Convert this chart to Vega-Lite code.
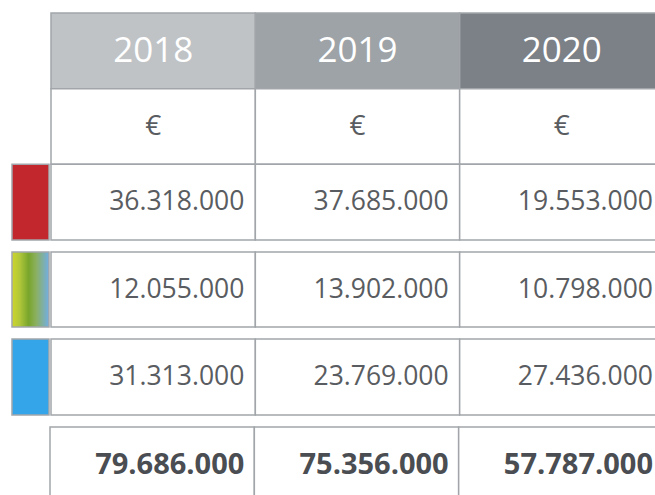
{
  "$schema": "https://vega.github.io/schema/vega-lite/v6.json",
  "padding": {"left": 11, "top": 12, "right": 0, "bottom": 0},
  "autosize": {"type": "pad"},
  "spacing": 10,
  "config": {"view": {"stroke": null}, "concat": {"spacing": 0}, "text": {"font": "Open Sans"}},
  "resolve": {"scale": {"x": "independent", "y": "independent", "fill": "independent"}},
  "datasets": {
    "cells": [
      {"row": "header", "year": "2018", "label": "2018"},
      {"row": "header", "year": "2019", "label": "2019"},
      {"row": "header", "year": "2020", "label": "2020"},
      {"row": "unit", "year": "2018", "label": "€"},
      {"row": "unit", "year": "2019", "label": "€"},
      {"row": "unit", "year": "2020", "label": "€"},
      {"row": "r1", "year": "2018", "label": "36.318.000"},
      {"row": "r1", "year": "2019", "label": "37.685.000"},
      {"row": "r1", "year": "2020", "label": "19.553.000"},
      {"row": "r2", "year": "2018", "label": "12.055.000"},
      {"row": "r2", "year": "2019", "label": "13.902.000"},
      {"row": "r2", "year": "2020", "label": "10.798.000"},
      {"row": "r3", "year": "2018", "label": "31.313.000"},
      {"row": "r3", "year": "2019", "label": "23.769.000"},
      {"row": "r3", "year": "2020", "label": "27.436.000"},
      {"row": "total", "year": "2018", "label": "79.686.000"},
      {"row": "total", "year": "2019", "label": "75.356.000"},
      {"row": "total", "year": "2020", "label": "57.787.000"}
    ],
    "swatches": [
      {"row": "r1", "kind": "red"},
      {"row": "r2", "kind": "gradient"},
      {"row": "r3", "kind": "blue"}
    ]
  },
  "vconcat": [
    {
      "resolve": {"scale": {"x": "independent", "y": "independent", "fill": "independent"}},
      "hconcat": [
        {
          "width": 37, "height": 227,
          "data": {"name": "swatches"},
          "transform": [{"filter": "datum.row === 'r1'"}],
          "mark": {"type": "rect", "stroke": "#a2a6aa", "strokeWidth": 1.5},
          "encoding": {
            "y": {"field": "row", "type": "nominal", "axis": null, "scale": {"domain": ["header", "unit", "r1"], "paddingInner": 0, "paddingOuter": 0}},
            "fill": {"field": "kind", "type": "nominal", "legend": null, "scale": {"domain": ["red", "blue"], "range": ["#c1272d", "#34a5e8"]}}
          }
        },
        {
          "width": 613, "height": 227,
          "data": {"name": "cells"},
          "transform": [{"filter": {"field": "row", "oneOf": ["header", "unit", "r1"]}}],
          "encoding": {
            "x": {"field": "year", "type": "nominal", "axis": null, "scale": {"domain": ["2018", "2019", "2020"], "paddingInner": 0, "paddingOuter": 0}},
            "y": {"field": "row", "type": "nominal", "axis": null, "scale": {"domain": ["header", "unit", "r1"], "paddingInner": 0, "paddingOuter": 0}}
          },
          "layer": [
            {
              "mark": {"type": "rect", "stroke": "#a2a6aa", "strokeWidth": 1.5},
              "encoding": {
                "fill": {
                  "condition": {"test": "datum.row === 'header'", "field": "year", "type": "nominal", "legend": null, "scale": {"domain": ["2018", "2019", "2020"], "range": ["#bfc3c6", "#9ea3a7", "#7b8187"]}},
                  "value": "#ffffff"
                }
              }
            },
            {
              "transform": [{"filter": "datum.row === 'header'"}],
              "mark": {"type": "text", "fontSize": 35, "color": "#ffffff"},
              "encoding": {"text": {"field": "label"}}
            },
            {
              "transform": [{"filter": "datum.row === 'unit'"}],
              "mark": {"type": "text", "fontSize": 28, "color": "#595c60"},
              "encoding": {"text": {"field": "label"}}
            },
            {
              "transform": [{"filter": "datum.row === 'r1'"}],
              "mark": {"type": "text", "fontSize": 26.5, "color": "#595c60", "align": "right", "dx": -11},
              "encoding": {
                "x": {"field": "year", "type": "nominal", "bandPosition": 1},
                "text": {"field": "label"}
              }
            }
          ]
        }
      ]
    },
    {
      "resolve": {"scale": {"x": "independent", "y": "independent", "fill": "independent"}},
      "hconcat": [
        {
          "width": 37, "height": 75,
          "data": {"name": "swatches"},
          "transform": [{"filter": "datum.row === 'r2'"}],
          "mark": {"type": "rect", "stroke": "#a2a6aa", "strokeWidth": 1.5,
            "fill": {"gradient": "linear", "x1": 0, "y1": 0, "x2": 1, "y2": 0,
              "stops": [
                {"offset": 0, "color": "#cdd52b"},
                {"offset": 0.2, "color": "#b2c83a"},
                {"offset": 0.45, "color": "#78a52b"},
                {"offset": 0.65, "color": "#8cb060"},
                {"offset": 1, "color": "#72aee3"}
              ]}},
          "encoding": {
            "y": {"field": "row", "type": "nominal", "axis": null, "scale": {"domain": ["r2"], "paddingInner": 0, "paddingOuter": 0}}
          }
        },
        {
          "width": 613, "height": 75,
          "data": {"name": "cells"},
          "transform": [{"filter": "datum.row === 'r2'"}],
          "encoding": {
            "x": {"field": "year", "type": "nominal", "axis": null, "scale": {"domain": ["2018", "2019", "2020"], "paddingInner": 0, "paddingOuter": 0}},
            "y": {"field": "row", "type": "nominal", "axis": null, "scale": {"domain": ["r2"], "paddingInner": 0, "paddingOuter": 0}}
          },
          "layer": [
            {"mark": {"type": "rect", "stroke": "#a2a6aa", "strokeWidth": 1.5, "fill": "#ffffff"}},
            {
              "mark": {"type": "text", "fontSize": 26.5, "color": "#595c60", "align": "right", "dx": -11},
              "encoding": {
                "x": {"field": "year", "type": "nominal", "bandPosition": 1},
                "text": {"field": "label"}
              }
            }
          ]
        }
      ]
    },
    {
      "resolve": {"scale": {"x": "independent", "y": "independent", "fill": "independent"}},
      "hconcat": [
        {
          "width": 37, "height": 76,
          "data": {"name": "swatches"},
          "transform": [{"filter": "datum.row === 'r3'"}],
          "mark": {"type": "rect", "stroke": "#a2a6aa", "strokeWidth": 1.5},
          "encoding": {
            "y": {"field": "row", "type": "nominal", "axis": null, "scale": {"domain": ["r3"], "paddingInner": 0, "paddingOuter": 0}},
            "fill": {"field": "kind", "type": "nominal", "legend": null, "scale": {"domain": ["red", "blue"], "range": ["#c1272d", "#34a5e8"]}}
          }
        },
        {
          "width": 613, "height": 76,
          "data": {"name": "cells"},
          "transform": [{"filter": "datum.row === 'r3'"}],
          "encoding": {
            "x": {"field": "year", "type": "nominal", "axis": null, "scale": {"domain": ["2018", "2019", "2020"], "paddingInner": 0, "paddingOuter": 0}},
            "y": {"field": "row", "type": "nominal", "axis": null, "scale": {"domain": ["r3"], "paddingInner": 0, "paddingOuter": 0}}
          },
          "layer": [
            {"mark": {"type": "rect", "stroke": "#a2a6aa", "strokeWidth": 1.5, "fill": "#ffffff"}},
            {
              "mark": {"type": "text", "fontSize": 26.5, "color": "#595c60", "align": "right", "dx": -11},
              "encoding": {
                "x": {"field": "year", "type": "nominal", "bandPosition": 1},
                "text": {"field": "label"}
              }
            }
          ]
        }
      ]
    },
    {
      "resolve": {"scale": {"x": "independent", "y": "independent", "fill": "independent"}},
      "hconcat": [
        {
          "width": 37, "height": 76,
          "data": {"name": "swatches"},
          "transform": [{"filter": "datum.row === 'total'"}],
          "mark": {"type": "rect", "stroke": "#a2a6aa", "strokeWidth": 1.5},
          "encoding": {
            "y": {"field": "row", "type": "nominal", "axis": null, "scale": {"domain": ["total"], "paddingInner": 0, "paddingOuter": 0}}
          }
        },
        {
          "width": 613, "height": 76,
          "data": {"name": "cells"},
          "transform": [{"filter": "datum.row === 'total'"}],
          "encoding": {
            "x": {"field": "year", "type": "nominal", "axis": null, "scale": {"domain": ["2018", "2019", "2020"], "paddingInner": 0, "paddingOuter": 0}},
            "y": {"field": "row", "type": "nominal", "axis": null, "scale": {"domain": ["total"], "paddingInner": 0, "paddingOuter": 0}}
          },
          "layer": [
            {"mark": {"type": "rect", "stroke": "#a2a6aa", "strokeWidth": 1.5, "fill": "#ffffff"}},
            {
              "mark": {"type": "text", "fontSize": 29, "fontWeight": "bold", "color": "#4a4d51", "align": "right", "dx": -10},
              "encoding": {
                "x": {"field": "year", "type": "nominal", "bandPosition": 1},
                "text": {"field": "label"}
              }
            }
          ]
        }
      ]
    }
  ]
}
